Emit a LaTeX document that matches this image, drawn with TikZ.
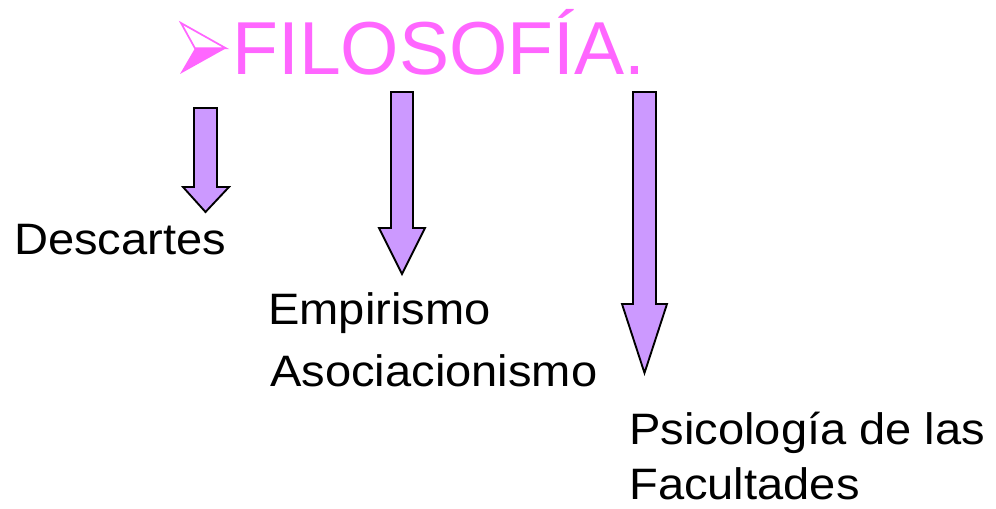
\documentclass[tikz,border=0pt]{standalone}
\usepackage{fontspec}
\setmainfont{Liberation Sans}
\definecolor{titlepink}{HTML}{FF66FF}
\definecolor{arrowfill}{HTML}{CC99FF}
\newcommand{\wide}[1]{\scalebox{1.07}[1]{#1}}
\begin{document}
\begin{tikzpicture}[x=0.75pt,y=-0.75pt,
  blockarrow/.style={draw=black, fill=arrowfill, line width=1.4pt, line join=miter},
  lbl/.style={anchor=base west, inner sep=0pt, font=\fontsize{33}{38}\selectfont},
  ttl/.style={anchor=base west, inner sep=0pt, text=titlepink, font=\fontsize{56.3}{60}\selectfont}]
\useasboundingbox (0,0) rectangle (996,509);
% bullet
\coordinate (btl) at (181,23);
\coordinate (btip) at (226,48.3);
\coordinate (bbl) at (180,74);
\coordinate (bn) at (195,48.3);
\fill[titlepink] (bn) -- (btip) -- (bbl) -- cycle;
\draw[titlepink, line width=1.3pt, line join=miter] (btl) -- (btip) -- (bn) -- cycle;
% title
\node[ttl] (title) at (232,75) {FILOSOFÍA.};
% arrows
\draw[blockarrow] (194,108) -- (217,108) -- (217,187) -- (229,187) -- (205.5,212) -- (183,187) -- (194,187) -- cycle;
\draw[blockarrow] (391,92) -- (413,92) -- (413,228) -- (425,228) -- (402,274) -- (379,228) -- (391,228) -- cycle;
\draw[blockarrow] (633,92) -- (656,92) -- (656,304) -- (667,304) -- (644.5,373) -- (622,304) -- (633,304) -- cycle;
% labels
\node[lbl] (desc) at (14,255) {\wide{Descartes}};
\node[lbl] (emp) at (268,325) {\wide{Empirismo}};
\node[lbl] (aso) at (270,387) {\wide{Asociacionismo}};
\node[lbl] (psi) at (629,445) {\wide{Psicología de las}};
\node[lbl] (fac) at (629,499) {\wide{Facultades}};
\end{tikzpicture}
\end{document}
